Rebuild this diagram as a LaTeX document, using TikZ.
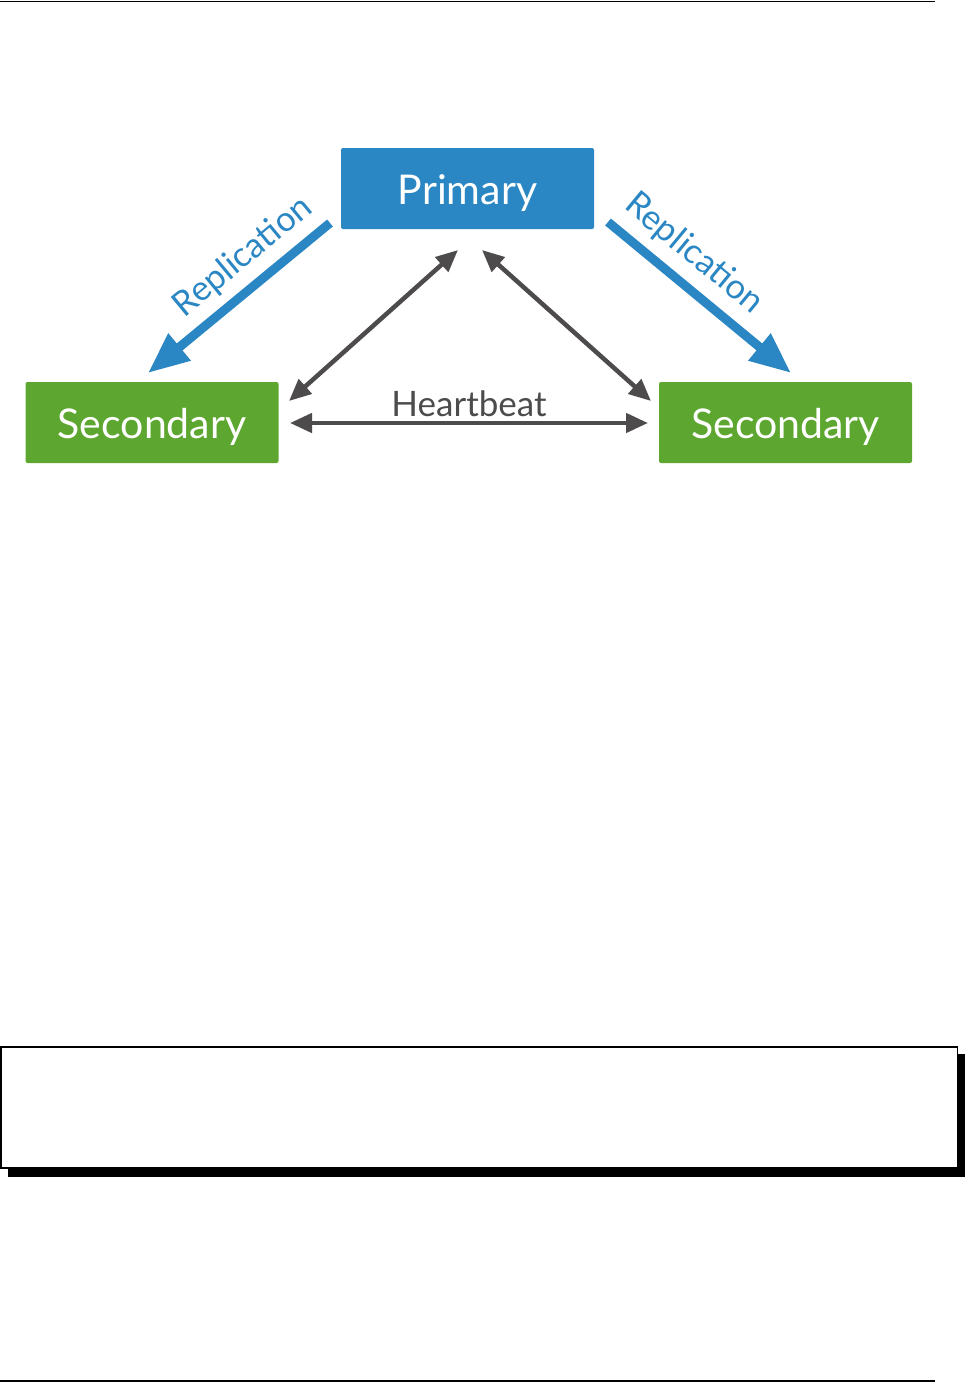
\documentclass[tikz,border=0pt]{standalone}
\usepackage{fontspec}
\setmainfont{Lato}
\usetikzlibrary{arrows.meta,calc}
\definecolor{mblue}{HTML}{2B87C3}
\definecolor{mgreen}{HTML}{5DA731}
\definecolor{mgray}{HTML}{4D4B4C}
\begin{document}
\begin{tikzpicture}[x=1pt,y=-1pt,
  box/.style={minimum width=253pt,minimum height=81pt,inner sep=0pt,rounded corners=2pt,
    text=white,text height=31pt,text depth=0pt,font=\fontsize{41}{45}\selectfont},
  hb/.style={mgray,line width=4.5pt,{Triangle[length=22pt,width=19pt]}-{Triangle[length=22pt,width=19pt]}},
  rep/.style={mblue,line width=9pt,-{Triangle[length=41pt,width=33pt]}},
  replab/.style={text=mblue,font=\fontsize{34.5}{38}\selectfont,inner sep=0pt}]
\useasboundingbox (0,0) rectangle (965,1382);
% page rules
\draw[line width=1.2pt] (0,1.5) -- (935,1.5);
\draw[line width=1.2pt] (0,1381) -- (935,1381);
% nodes
\node[box,fill=mblue] (P) at (467.5,188.5) {Primary};
\node[box,fill=mgreen] (S1) at (152,422.5) {Secondary};
\node[box,fill=mgreen] (S2) at (785.5,422.5) {Secondary};
% heartbeat endpoints
\coordinate (h1) at (290,423);
\coordinate (h2) at (648,423);
\coordinate (d1a) at (289,401);
\coordinate (d1b) at (458,250);
\coordinate (d2a) at (482,250);
\coordinate (d2b) at (651,401);
\draw[hb] (d1a) -- (d1b);
\draw[hb] (d2a) -- (d2b);
\draw[hb] (h1) -- node[above=4pt,text=mgray,font=\fontsize{35}{38}\selectfont,inner sep=0pt] (hbl) {Heartbeat} (h2);
% replication
\coordinate (r1a) at (330,223);
\coordinate (r1b) at (148,373);
\coordinate (r2a) at (608,222);
\coordinate (r2b) at (791,373);
\draw[rep] (r1a) -- (r1b);
\draw[rep] (r2a) -- (r2b);
\node[replab,rotate=39.6] (rl1) at (243,257) {Replication};
\node[replab,rotate=-39.6] (rl2) at (694,254) {Replication};
% shadow box
\fill[black] (7.5,1054) rectangle (965,1177);
\draw[line width=1.5pt,fill=white] (0.75,1046.75) rectangle (957.5,1168) node[pos=0.5] (sb) {};
\end{tikzpicture}
\end{document}
